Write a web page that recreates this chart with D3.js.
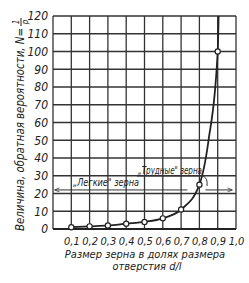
<!DOCTYPE html>
<html>
<head>
<meta charset="utf-8">
<script src="https://cdn.jsdelivr.net/npm/d3@7"></script>
<style>
  body { margin: 0; background: #fff; }
  text { font-family: "Liberation Sans Narrow", "DejaVu Sans Condensed", sans-serif; font-style: italic; fill: #222; }
</style>
</head>
<body>
<div id="chart"></div>
<script>
// значения
var sizes = [0.1, 0.2, 0.3, 0.4, 0.5, 0.6, 0.7, 0.8, 0.9];
var values = [1, 1.5, 2, 3, 4, 6, 11, 25, 100];
// точки линии кривой (вкл. участок выше 100)
var curveX = [0.1, 0.2, 0.3, 0.4, 0.5, 0.6, 0.7, 0.8, 0.85, 0.9, 0.905];
var curveY = [1, 1.5, 2, 3, 4, 6, 11, 25, 50, 100, 120];
var xTicks = [0.1, 0.2, 0.3, 0.4, 0.5, 0.6, 0.7, 0.8, 0.9, 1.0];
var yTicks = [0, 10, 20, 30, 40, 50, 60, 70, 80, 90, 100, 110, 120];
var easyLabel = '„Легкие" зерна';
var hardLabel = '„Трудные" зерна';
var boundary = 0.8;
var arrowLevel = 22;

var width = 249, height = 283;
var x = d3.scaleLinear().domain([0, 1]).range([53, 236]);
var y = d3.scaleLinear().domain([0, 120]).range([229, 16]);

var svg = d3.select('#chart').append('svg')
    .attr('width', width)
    .attr('height', height);

svg.append('defs').append('marker')
    .attr('id', 'arr')
    .attr('viewBox', '0 0 10 10')
    .attr('refX', 9).attr('refY', 5)
    .attr('markerWidth', 6).attr('markerHeight', 5)
    .attr('orient', 'auto-start-reverse')
    .append('path')
    .attr('d', 'M0,1 L10,5 L0,9')
    .attr('fill', 'none')
    .attr('stroke', '#333')
    .attr('stroke-width', 1.5);

// сетка
var grid = svg.append('g').attr('stroke', '#333').attr('stroke-width', 1.3);
grid.selectAll('line.h')
    .data(yTicks)
    .enter().append('line')
    .attr('x1', x(0)).attr('x2', x(1))
    .attr('y1', function (d) { return y(d); })
    .attr('y2', function (d) { return y(d); });
grid.selectAll('line.v')
    .data([0].concat(xTicks))
    .enter().append('line')
    .attr('y1', y(0)).attr('y2', y(120))
    .attr('x1', function (d) { return x(d); })
    .attr('x2', function (d) { return x(d); });
// нижняя ось потолще
svg.append('line')
    .attr('x1', x(0)).attr('x2', x(1))
    .attr('y1', y(0)).attr('y2', y(0))
    .attr('stroke', '#222').attr('stroke-width', 2);

// подписи осей
var yAxis = d3.axisLeft(y).tickValues(yTicks).tickSize(0).tickPadding(5);
var gy = svg.append('g').attr('transform', 'translate(' + x(0) + ',0)').call(yAxis);
gy.select('.domain').remove();
gy.selectAll('text').style('font-size', '12px').attr('font-family', null);

var fmt = function (d) { return d3.format('.1f')(d).replace('.', ','); };
var xAxis = d3.axisBottom(x).tickValues(xTicks).tickFormat(fmt).tickSize(0).tickPadding(8);
var gx = svg.append('g').attr('transform', 'translate(0,' + y(0) + ')').call(xAxis);
gx.select('.domain').remove();
gx.selectAll('text').style('font-size', '11px').attr('font-family', null);

svg.append('text').attr('x', 145).attr('y', 258).attr('text-anchor', 'middle')
    .style('font-size', '11px').text('Размер зерна в долях размера');
svg.append('text').attr('x', 147).attr('y', 270).attr('text-anchor', 'middle')
    .style('font-size', '11px').text('отверстия d/l');

var yt = svg.append('g').attr('transform', 'translate(24,123) rotate(-90)');
yt.append('text').attr('x', 95).attr('y', 0).attr('text-anchor', 'end')
    .attr('textLength', 203).attr('lengthAdjust', 'spacingAndGlyphs')
    .style('font-size', '12px').text('Величина, обратная вероятности, N=');
yt.append('text').attr('x', 101).attr('y', -5).attr('text-anchor', 'middle')
    .style('font-size', '8px').text('1');
yt.append('line').attr('x1', 97).attr('x2', 105).attr('y1', -3).attr('y2', -3)
    .attr('stroke', '#222').attr('stroke-width', 1);
yt.append('text').attr('x', 101).attr('y', 4).attr('text-anchor', 'middle')
    .style('font-size', '8px').text('p');

// кривая
var line = d3.line()
    .x(function (d) { return x(d[0]); })
    .y(function (d) { return y(d[1]); })
    .curve(d3.curveMonotoneX);
svg.append('path')
    .datum(d3.zip(curveX, curveY))
    .attr('d', line)
    .attr('fill', 'none')
    .attr('stroke', '#222')
    .attr('stroke-width', 1.8);

svg.selectAll('circle')
    .data(d3.zip(sizes, values))
    .enter().append('circle')
    .attr('cx', function (d) { return x(d[0]); })
    .attr('cy', function (d) { return y(d[1]); })
    .attr('r', 2.6)
    .attr('fill', '#fff')
    .attr('stroke', '#222')
    .attr('stroke-width', 1.2);

// стрелки
svg.append('line')
    .attr('x1', x(boundary) - 12).attr('x2', x(0) + 2)
    .attr('y1', y(arrowLevel)).attr('y2', y(arrowLevel))
    .attr('stroke', '#333').attr('stroke-width', 1)
    .attr('marker-end', 'url(#arr)');
svg.append('line')
    .attr('x1', x(boundary) + 6).attr('x2', x(1) - 4)
    .attr('y1', y(arrowLevel)).attr('y2', y(arrowLevel))
    .attr('stroke', '#333').attr('stroke-width', 1)
    .attr('marker-end', 'url(#arr)');

svg.append('text').attr('x', 73).attr('y', 186)
    .attr('textLength', 66).attr('lengthAdjust', 'spacingAndGlyphs')
    .style('font-size', '11px').text(easyLabel);
svg.append('text').attr('x', 138).attr('y', 174)
    .attr('textLength', 64).attr('lengthAdjust', 'spacingAndGlyphs')
    .style('font-size', '11px').text(hardLabel);
svg.append('path')
    .attr('d', 'M137,176 L203,176 Q208,178 207,186')
    .attr('fill', 'none').attr('stroke', '#333').attr('stroke-width', 1);
</script>
</body>
</html>
